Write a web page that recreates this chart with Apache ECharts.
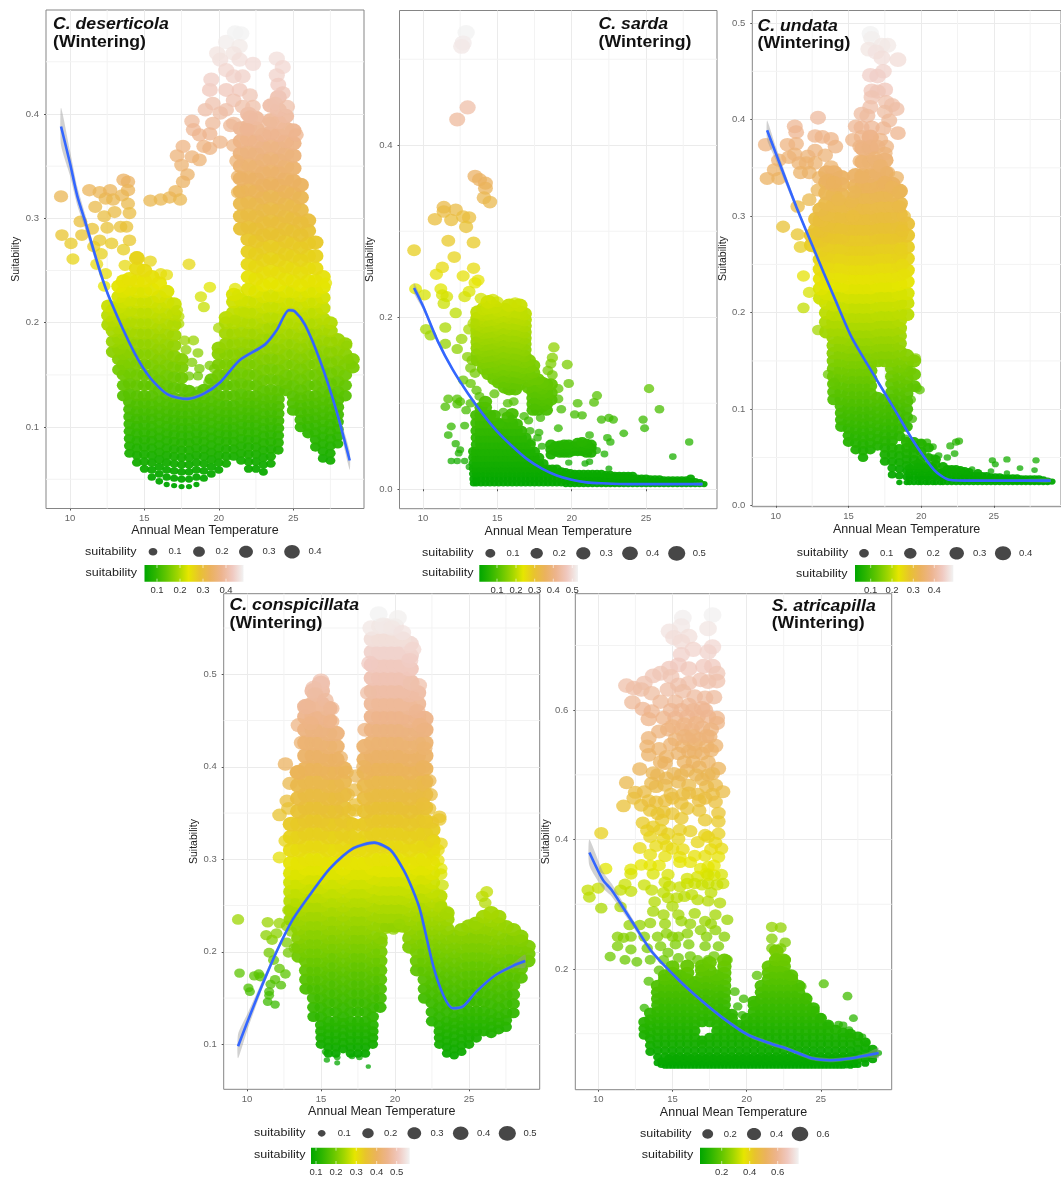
<!DOCTYPE html>
<html>
<head>
<meta charset="utf-8">
<title>Wintering suitability</title>
<script src="https://cdn.jsdelivr.net/npm/echarts@6/dist/echarts.min.js"></script>
<style>
  html, body { margin: 0; padding: 0; background: #fff; }
  #chart { width: 1061px; height: 1178px; }
</style>
</head>
<body>
<div id="chart"></div>
<script>
const deserticolaCloud = [
  [126,198,207,216],[129,172,182,192,202,212],[133,155,165,175,185,195,205,215,225,235],
  [136,130,140,150,160,170,180,190,200,210,220,230,240],
  [140,75,82,89,96,103,110,117,124,132,142,152,162,172,182,192,202,212,222,232,242],
  [145,66,73,80,87,94,101,108,115,122,130,140,150,160,170,180,190,200,210,220,230,240,252,262],
  [150,60,67,74,81,88,95,102,109,116,123,130,140,150,160,170,180,190,200,210,220,230,240,250],
  [155,52,59,66,73,80,87,94,101,108,115,122,130,140,150,160,170,180,190,200,210,220,232,244],
  [160,48,55,62,69,76,83,90,97,104,111,118,125,135,145,155,165,175,185,195,205,215,225,238],
  [165,45,52,59,66,73,80,87,94,101,108,115,122,130,140,150,160,170,180,190,200,210,220,230],
  [170,44,51,58,65,72,79,86,93,100,107,114,121,128,138,148,158,168,178,188,198,208,218],
  [175,43,50,57,64,71,78,85,92,99,106,113,120,127,137,147,157,165],
  [180,43,50,57,64,71,78,85,92,99,106,113,120,127,135],
  [185,45,52,59,66,73,80,87,94,101,108,115,122,130],
  [190,51,58,65,72,79,86,93,100,107,114,121,128,136],
  [195,55,62,69,76,83,90,97,104,111,118,125,135,146],
  [200,59,66,73,80,87,94,101,108,115,122,130,140,150,160,170,176],
  [205,65,72,79,86,93,100,107,114,121,130,140,150,160,170,180,190,200,205],
  [210,72,79,86,93,100,107,114,121,130,140,150,160,170,180,190,200,210,220,227],
  [215,68,75,82,89,96,103,110,117,124,132,142,152,162,172,182,192,202,212,222,290,302,314,326,338,350,362,374,386],
  [220,60,67,74,81,88,95,102,109,116,123,130,140,150,160,170,180,190,200,210,220,232,244,256,268,280,292,304,316,328,340,352,364,376,388,400],
  [225,60,67,74,81,88,95,102,109,116,123,130,140,150,160,170,180,190,200,210,220,230,242,254,266,278,290,302,314,326,338,350,362,374,386,396],
  [230,57,64,71,78,85,92,99,106,113,120,127,135,145,155,165,175,185,195,205,215,225,236,248,260,272,284,296,308,320,332,344,356,368,380],
  [235,65,72,79,86,93,100,107,114,121,128,136,146,156,166,176,186,196,206,216,226,238,250,262,274,286,298,310,322,334,346,358,370,382,394,408],
  [240,78,85,92,99,106,113,120,127,135,145,155,165,175,185,195,205,215,225,236,248,260,272,284,296,308,320,332,344,356,368,380,392,404,416],
  [245,135,142,150,160,170,180,190,200,210,220,230,242,254,266,278,290,302,314,326,338,350,362,374,386,398],
  [250,116,123,130,140,150,160,170,180,190,200,210,220,230,240,252,264,276,288,300,312,324,336,348,360,372,384],
  [255,100,107,114,121,128,136,146,156,166,176,186,196,206,216,226,236,248,260,272,284,296,308,320,332],
  [260,94,101,108,115,122,130,140,150,160,170,180,190,200,210,220,230,240,252,264,276,288,298],
  [265,81,88,95,102,109,116,123,130,140,150,160,170,180,190,200,210,220,230,240,252,264,277],
  [270,70,77,84,91,98,105,112,119,126,134,144,154,164,174,184,194,204,214,224,234,244],
  [275,68,75,82,89,96,103,110,117,124,132,142,152,162,172,182,192,200],
  [280,84,91,98,105,112,119,126,134,144,154,164,174,184],
  [285,130,140,150,160,170,180],[290,157,165]
];
const deserticolaPoints = [
  [9.4,.321],[9.46,.284],[10.07,.276],[10.2,.261],[10.8,.284],[10.7,.297],[11.5,.29],[12,.279],[11.6,.273],[12.1,.266],[11.8,.256],[12.4,.247],[12.3,.235],
  [11.3,.327],[12,.325],[12.4,.319],[12.7,.327],[11.7,.311],[12.3,.302],[12.5,.291],[12.8,.276],[13,.306],[13.6,.337],[13.9,.335],[13.9,.327],[13.5,.322],[12.9,.318],[13.9,.314],[14,.305],[13.8,.292],[13.4,.292],[14,.279],[13.6,.27],[14.5,.263],[13.7,.255],
  [15.4,.259],[16.1,.247],[16.5,.246],[18,.256],[19.4,.234],[18.8,.225],[21.1,.233],[21.3,.227],[27.2,.238],
  [15.4,.317],[16.1,.318],[16.7,.32],[17.1,.326],[17.4,.318],[17.6,.335],[17.9,.342],[17.5,.351],[17.2,.36],[17.6,.369],[18.2,.359],[18.7,.356],[19,.369],[19.4,.367],[20.1,.373],[18.2,.393],[18.3,.385],[18.7,.38],[19.1,.404],[19.6,.391],[20.1,.401],[19.4,.381],[19.6,.41],[20.5,.404],[20.8,.389],[19.4,.423],[19.5,.433],[20.5,.423],[20.1,.452],[19.9,.458],[20.5,.442],[20.5,.469],[21.1,.478],[21.5,.477],[21.4,.465],[21,.458],[21.4,.452],[22.3,.448],[21,.436],[21.6,.436],[21.4,.423],[22.1,.418],[22.3,.407],[21,.413],[21.6,.407],[22.1,.397],[21,.391],[21.9,.385],[21,.37],[21.2,.355],[21.3,.34],[21.3,.325],
  [23.9,.453],[24.3,.445],[23.9,.437],[24,.428],[24.3,.42],[23.8,.41],[24.6,.407],[23.4,.391],[25.2,.38],
  [17.7,.183],[18.3,.183],[17.8,.174],[18.6,.171],[18.2,.162],[18.7,.156],[19.4,.159],[19.7,.156],[18,.149],[18.6,.149],[19.3,.143],[18.6,.135],[17.3,.199],[17.3,.206],[17.2,.212],[19,.215],[20,.195],[21.1,.203],[21.7,.21],[28.9,.16],[28.6,.178],[28.7,.165]
];
const deserticolaCurveX = [9.4,10,10.5,11,12,12.7,14.3,15.4,16.6,17.9,19,20.1,21.4,23.1,23.9,24.7,25.1,25.8,26.8,27.9,28.8];
const deserticolaCurveY = [.388,.353,.321,.298,.25,.222,.172,.147,.131,.127,.132,.143,.164,.179,.193,.212,.211,.198,.164,.116,.068];
const deserticolaBand = [.018,.012,.009,.007,.004,.003,.002,.002,.002,.002,.002,.002,.002,.002,.002,.002,.002,.002,.002,.004,.009];

const sardaCloud = [
  [134,7,12,18,24,30,37,44],[136,7,12,18,24,30,37,44,52,60,68,77,86],[139,7,12,18,24,30,37,44,52,60,68,77,86,95],[142,7,12,18,24,30,37,44,52,60,68,77,86,95,102],
  [145,7,12,18,24,30,37,44,52,60,68,77,86],[148,7,12,18,24,30,37,44,52,60,68,77,86],[151,7,12,18,24,30,37,44,52,60,68,77],[154,7,12,18,24,30,37,44,52,60,68,76],
  [157,7,12,18,24,30,37,44,52,60,68,76,84],[160,7,12,18,24,30,37,44,52,60,68,76,88],[163,7,12,18,24,30,37,44,52,60,68,76],[166,7,12,18,24,30,37,44,52,60,68],
  [169,7,12,18,24,30,37,44,52,60],[172,7,12,18,24,30,37,44,52],[175,7,12,18,24,30,37,44],[178,7,12,18,24,30,37],[181,7,12,18,24,30],[184,7,12,18,24],[187,7,12,18,24],[190,7,12,18,24],
  [193,7,11,16,21],[196,6,10,15,20],[199,6,10,14,19],[202,6,10,14,18],[205,6,10,14,18],[208,6,10,14,18],[211,6,10,14,18],[214,6,10,14,18],[217,6,10,14,18],[220,6,10,14,18],[223,6,10,14,17],[226,6,10,14,17],[229,6,10,14,16],[232,6,10,14,16],[235,6,10,14,16],[238,6,10,14,16],[241,6,10,13,16],[244,6,10,13],[247,6,10,13],[250,6,9,13],[253,6,9,12],[256,6,9,12],[259,6,9,12],[262,6,9,11],[265,6,9,11],[268,6,9,11],[271,6,9,11],[274,6,9,11],[277,6,9,11],[280,6,9,13],[283,6,9],[286,6,8],[289,6],
  [137,150,157,164,171,178,185,192,199,206],[141,140,147,154,161,168,175,182,189,196,203,210],[144,134,141,148,155,162,169,176,183,190,197,204,211,218],[148,128,135,142,149,156,163,170,177,184,191,198,205,212],
  [151,124,131,138,145,152,159,166,173,180,187,194,201,208],[155,118,125,132,139,146,153,160,167,174,181,188,195,202,209],[158,116,123,130,137,144,151,158,165,172,179,186,193,200,207,214],
  [162,116,123,130,137,144,151,158,165,172,179,186,193,200,207],[165,122,129,136,143,150,157,164,171,178,185,192,199,206,214],[168,134,141,148,155,162,169,176,183,190,197,204],
  [171,118,126,134,142,150],[174,92,99,106,113,120,128,136,144],[177,92,99,106,113,120,128],[180,96,103,110,117,124],[183,92,99,106,113,122],[186,104,112,122],
  [186,40,46,52],[189,44,50],[192,42,48,51],[195,42,48,52],[198,42,48,52],[201,44,50],[204,44,50,54],[207,44,50,55],[210,42,48,53],[213,42,48,52]
];
const sardaPoints = [
  [12.9,.531],[12.7,.519],[12.6,.515],[13,.444],[12.3,.43],[13.5,.364],[13.8,.36],[14.2,.356],[14.2,.35],[14.1,.339],[14.5,.334],[11.4,.328],[11.4,.323],[10.8,.314],[11.9,.313],[12.2,.325],[12.7,.317],[13.1,.316],[12.9,.305],[11.7,.289],[13.4,.287],[9.4,.278],[12.1,.27],[11.3,.258],[10.9,.25],[12.7,.248],[13.4,.257],[13.7,.243],[13.5,.24],[9.5,.233],[11.2,.233],[10.1,.226],[13.1,.23],[11.3,.226],[11.6,.224],[12.8,.224],[13.9,.222],[14.7,.221],[15,.218],[16.2,.217],
  [11.4,.216],[12.2,.205],[10.2,.186],[10.5,.179],[11.5,.188],[13.1,.186],[13.4,.193],[11.5,.169],[12.6,.175],[12.3,.163],[13,.154],[13.3,.15],[13.2,.141],[13.5,.135],[12.7,.127],[13.2,.123],[13.6,.115],[13.8,.108],[11.7,.105],[12.3,.105],[11.5,.096],[12.3,.099],[12.5,.102],[13.2,.1],[12.9,.092],[11.9,.073],[12.8,.074],[11.7,.063],[12.2,.053],[12.4,.042],[12.5,.046],[11.9,.033],[12.3,.033],[12.8,.033],[13.1,.026],[14.8,.111],[15.7,.1],[16.1,.102],[15.4,.09],[16,.082],[16.8,.085],[17.1,.08],[17.9,.083],[17.2,.068],[17.8,.066],[17.7,.06],[17.3,.055],[18,.05],
  [18.8,.165],[18.7,.153],[18.6,.146],[19.7,.145],[18.4,.138],[18.7,.133],[19.8,.123],[19.1,.117],[19.1,.105],[19.3,.093],[20.4,.1],[21.7,.109],[21.5,.101],[20.2,.087],[20.7,.086],[22,.081],[22.5,.083],[22.8,.081],[19.1,.071],[21.2,.063],[23.5,.065],[22.4,.06],[22.6,.055],[25.2,.117],[25.9,.093],[24.8,.081],[24.9,.071],[27.9,.055],[26.8,.038],[21.7,.045],[22.2,.041],[19.8,.031],[22.5,.024],[20.9,.03],[21.2,.032]
];
const sardaCurveX = [9.4,10,11,12,13,14,15,16,17,18,19,20,21,22,24,26,28,28.8];
const sardaCurveY = [.234,.213,.172,.139,.112,.088,.067,.05,.035,.024,.016,.011,.008,.007,.006,.006,.006,.006];
const sardaBand = [.006,.004,.003,.002,.002,.001,.001,.001,.001,.001,.001,.001,.001,.001,.001,.001,.001,.002];

const undataCloud = [
  [125,270,280],[128,275,286,297],[131,215,225,235,245,255,265,275,285,296,307],
  [135,180,190,200,210,220,230,240,250,260,270,280,291,302,313,324,335,345],
  [140,110,118,126,134,142,150,158,166,174,182,190,198,208,218,228,238,248,258,268,278,289,300,311,322,333,345],
  [145,82,89,96,103,110,118,126,134,142,150,158,166,174,182,190,198,208,218,228,238,248,258,268,278,289,300,311,322,333,340],
  [150,66,73,80,87,94,101,108,116,124,132,140,148,156,164,172,180,188,196,206,216,226,236,246,256,266,276,287,298,310],
  [155,58,65,72,79,86,93,100,108,116,124,132,140,148,156,164,172,180,188,196,206,216,226,236,246,256,266,276,287,298,309,320,331,342],
  [160,50,57,64,71,78,85,92,100,108,116,124,132,140,148,156,164,172,180,188,196,206,216,226,236,246,256,266,276,287,298,309,320,331,342,356,370],
  [165,58,65,72,79,86,93,100,108,116,124,132,140,148,156,164,172,180,188,196,206,216,226,236,246,256,266,276,287,298,309,320,331,342,356,370,382],
  [170,62,69,76,83,90,97,104,112,150,158,166,174,182,190,198,208,218,228,238,248,258,268,278,289,300,311,322,333,345,356],
  [175,46,53,60,67,74,81,88,95,102,110,150,158,166,174,182,190,198,208,218,228,238,248,258,268,278,289,300,311,322,333,345,358],
  [180,32,39,46,53,60,67,74,81,88,95,102,110,118,126,134,142,150,158,166,174,182,190,198,208,218,228,238,248,258,268,278,289,300,311,322,333],
  [185,24,31,38,45,52,59,72,80,88,96,104,112,120,128,136,144,152,160,168,176,184,192,200,210,220,230,240,250,260,270,280,291,302,313,326],
  [190,24,30,36,42,48,54,60,66,82,92,100,108,116,124,132,140,148,156,198,210,220,232,244,256,268,280,292],
  [195,24,30,36,42,48,54,60,66,124,136,150],[200,24,30,36,42,48,56,64],[205,24,30,36,42,50,60],[210,24,30,36,43,48],[215,24,29,35,41],
  [192,24,29,34,39],[198,24,29,34,39,44],[203,24,29,34,39],[208,24,29,34,40],[213,24,29,34],[218,24,29,34,38],[221,24,28,33,38],[224,24,28,33,38],[227,24,28,32,37],[230,24,28,32,36],[233,24,28,32,35],[236,24,27,31],[239,24,27,31,34],[242,24,27,31],[245,24,27,31],[248,24,27,30],[251,24,27,30],[254,24,27,30],[257,24,27,29],[260,24,27,29],[263,24,26,29],[266,24,26,29],[269,24,26,28],[272,24,26,28],[275,24,26,28],[278,24,26,28],[281,24,26,28],[284,24,26,27],[287,24,26],[290,25]
];
const undataPoints = [
  [16.5,.489],[16.6,.484],[16.4,.473],[17.3,.477],[17.7,.477],[16.9,.47],[17.3,.464],[18.4,.462],[17.4,.45],[16.5,.446],[17,.445],[16.6,.43],[17.5,.431],[17,.429],[16.6,.423],[17.6,.418],[18,.415],[18.3,.411],[16.5,.413],[15.9,.406],[16.3,.404],[17.5,.408],[17.8,.399],[15.5,.393],[15.9,.392],[16.6,.392],[17.4,.391],[18.4,.386],[15.3,.379],[15.9,.382],[16.5,.382],[17.2,.379],[15.8,.372],[16.5,.372],[17,.372],[17.6,.372],[15.8,.357],[17.5,.365],[16.8,.36],[17.2,.352],[17.7,.345],[18.3,.34],[15.9,.34],[17.5,.335],[18,.33],[18.5,.325],[18.8,.3],[18.7,.285],[18.6,.265],[18.7,.25],[18.8,.24],[18.5,.31],[15.3,.3],[15.2,.315],[15.4,.325],
  [12.9,.402],[11.3,.393],[11.4,.387],[12.7,.383],[13.2,.382],[13.8,.38],[14.1,.372],[9.3,.374],[10.8,.374],[11.4,.375],[10.2,.358],[10.9,.361],[9.4,.339],[9.9,.348],[10.2,.339],[11.6,.355],[11.3,.364],[12.2,.362],[12.7,.368],[13.4,.363],[12.1,.355],[12.7,.355],[11.7,.345],[12.3,.345],[13.8,.351],[13,.34],[13.6,.337],[12.9,.327],[14,.335],
  [12.3,.317],[14.3,.317],[11.5,.31],[10.5,.289],[11.5,.281],[11.7,.268],[11.9,.238],[12.3,.221],[11.9,.205],[12.9,.182],[13.6,.136],[14,.128],
  [19.2,.065],[20,.066],[20.4,.066],[20.8,.061],[21.2,.052],[22,.062],[22.4,.066],[22.6,.067],[22.3,.054],[21.8,.05],[24.9,.047],[25.1,.043],[25.9,.048],[27.9,.047],[26.8,.039],[27.8,.037],[24.8,.036],[25.9,.034],[23.5,.038],[19.6,.153],[19.3,.14],[19.9,.12],[19.7,.122],[19.3,.11],[19.4,.09],[18.9,.07],[19.6,.06],[20.9,.05]
];
const undataCurveX = [9.4,10,11.4,12.5,13.3,14.1,15.2,16.8,18.2,19.5,20.9,21.9,23.6,26,28.9];
const undataCurveY = [.389,.365,.31,.27,.241,.213,.175,.134,.099,.066,.037,.027,.026,.026,.026];
const undataBand = [.01,.007,.003,.002,.002,.002,.002,.002,.002,.002,.001,.001,.001,.001,.002];

const conspicillataCloud = [
  [130,235,245,255,265,275,285,296,310,324,338],
  [135,195,205,215,225,235,245,255,265,275,285,296,310,324,338,352,366,380,394],
  [140,160,170,180,190,200,210,220,230,240,250,260,270,280,290,300,314,328,342,356,370,384,398,412,426,440,454,465],
  [145,130,140,150,160,170,180,190,200,210,220,230,240,250,260,270,280,290,300,314,328,342,356,370,384,398,412,426,440,454,468,482],
  [150,100,107,114,121,130,140,150,160,170,180,190,200,210,220,230,240,250,260,270,280,290,300,314,328,342,356,370,384,398,412,426,440,454,468,482,490],
  [155,90,97,104,111,118,125,135,145,155,165,175,185,195,205,215,225,235,245,255,265,275,285,296,310,324,338,352,366,380,394,408,422,436,450,463],
  [160,90,97,104,111,118,125,135,145,155,165,175,185,195,205,215,225,235,245,255,265,275,285,296,310,324,338,352,366,380,394,408,422,436],
  [165,95,102,109,116,123,130,140,150,160,170,180,190,200,210,220,230,240,250,260,270,280,290,300,314,328,342,356,370,384,398],
  [170,90,97,104,111,118,125,135,145,155,165,175,185,195,205,215,225,235,245,255,265,275,285,296,310,324,338],
  [175,90,97,104,111,118,125,135,145,155,165,175,185,195,205,215,225,235,245,255,265,275,285,296,310,320],
  [180,90,97,104,111,118,125,135,145,155,165,175,185,195,205,215,225,235,245,255,265,275,285,296,310,324,338,352,366,380,394,408,422],
  [185,100,107,114,121,130,140,150,160,170,180,190,200,210,220,230,240,250,260,270,280,290,300,314,328,342,356,370,384,398,412,426,440,454,468,482,496,510,524,538],
  [190,140,150,160,170,180,190,200,210,215,228,238,248,258,268,278,288,300,314,328,342,356,370,384,398,412,426,440,454,468,482,496,510,524,538,552],
  [195,228,238,248,258,268,278,288,300,314,328,342,356,370,384,398,412,426,440,454,468,482,496,510,524,538,552],
  [200,228,238,248,258,268,278,288,300,314,328,342,356,370,384,398,412,426,440,454,468,482,496,510,524,538,552],
  [205,228,238,248,258,268,278,288,300,314,328,342,356,370,384,398,412,426,440,454,468,482,496,510,524,538],
  [210,205,215,225,235,245,255,265,275,285,296,310,324,338,352,366,380,394,408,422,436,450,464,478,492,506,520,533],
  [215,180,190,200,210,220,230,240,250,260,270,280,290,300,314,328,342,356,370,384,398,412,426,440,454,468,480],
  [220,150,160,170,180,190,200,210,220,230,240,250,260,270,280,290,300,314,328,342,356,370,384,398,412,426,440,452],
  [225,125,135,145,155,165,175,185,195,205,215,225,235,245,255,265,275,285,296,310,320,332],
  [230,100,107,114,121,130,140,150,160,170,180,190,200,210,220,230,240,250,260],
  [235,90,97,104,111,118,125,135,145,155,165,175,185,195,205,215,225,235,242],
  [240,88,95,102,109,116,123,130,140,150,160,170,180,190,200,210,217],
  [245,92,99,106,113,120,127,135,145,155,165,175,185,195,205,215,224],
  [250,100,107,114,121,128,136,146,156,166,176,186,196,206,216,228],
  [255,107,114,121,128,136,146,156,166,176,186,196,206,216,226,231],
  [260,114,121,128,136,146,156,166,176,186,196,206,216,226,238],
  [265,112,119,126,134,144,154,164,174,184,194,204,214,224,234,242],
  [270,116,123,130,140,150,160,170,180,190,200,210,220,230,238],
  [275,119,126,134,144,154,164,174,184,194,204,214,227],
  [280,134,144,154,164,174,184,194,204,214,224],[285,172,182,192,202,212,217],[290,190,198,206]
];
const conspicillataPoints = [
  [15,.493],[14.5,.485],[14.6,.478],[15.3,.472],[14.1,.465],[15.7,.463],[13.5,.445],[14.3,.447],[15.7,.449],[13.7,.426],[12.6,.403],[13.4,.394],[12.9,.382],[12.7,.363],[12.8,.355],[12.2,.348],[12.6,.32],[12.2,.302],[16.3,.41],[16.7,.394],[16.8,.37],[17.2,.338],[17.6,.317],[16.9,.352],[17.3,.327],
  [18.9,.565],[20.2,.561],[18.4,.55],[19.2,.553],[19.8,.55],[20.5,.545],[21.2,.527],[21,.515],[18.3,.512],[21.1,.49],[18.2,.48],[21.6,.488],[21.5,.46],[21.7,.445],[22,.44],[22,.42],[21.9,.4],[22,.38],[22.4,.37],[22.3,.355],[22.5,.34],[22.6,.32],[22.6,.305],[22.3,.385],[18,.44],[17.9,.4],[21.9,.36],[22.1,.34],
  [17.4,.39],[17.3,.375],[17.3,.359],[17.3,.353],[17.6,.337],[23,.346],[23,.343],[23.1,.317],[22.9,.31],[22.9,.299],[23.1,.29],[23.1,.284],[23.2,.272],[26.2,.265],[25.9,.26],[26.1,.253],[23.1,.249],[23.5,.242],
  [9.4,.235],[11.4,.232],[11.3,.218],[11.7,.213],[11.5,.199],[9.5,.177],[10.5,.174],[10.8,.176],[10.9,.173],[10.1,.161],[10.2,.157],[11.9,.17],[12.3,.164],[12.2,.182],[12.6,.176],[11.5,.157],[11.4,.146],[11.9,.143],[11.8,.191],[12.2,.231],[12,.22],[12.8,.199],[13.2,.204],[12.7,.21],[11.6,.165],[12.7,.228],[13,.222],[11.5,.153],[12.8,.245],
  [15.4,.083],[16.1,.08],[18.2,.076],[15.3,.092],[16.1,.086],[17.1,.087],[17.6,.086],[19.4,.225],[19.9,.224],[20.3,.23]
];
const conspicillataCurveX = [9.4,10,10.9,12,13.1,14.5,15.6,17.2,18.6,19.7,20.6,21.2,21.7,22.6,23.3,23.9,24.6,25.5,26.8,28,28.8];
const conspicillataCurveY = [.098,.123,.159,.2,.235,.267,.29,.312,.318,.31,.288,.267,.245,.184,.152,.139,.141,.157,.175,.185,.19];
const conspicillataBand = [.013,.009,.005,.003,.002,.002,.002,.002,.002,.002,.002,.002,.002,.002,.002,.002,.002,.002,.002,.003,.007];

const atricapillaCloud = [
  [131,98,108,118],[135,72,82,92,102,112,122,132],[140,55,64,74,84,94,104,114,124,134,144,154,164,174],
  [145,50,57,65,74,84,94,104,114,124,134,144,154,164,174,184,190],[150,50,57,65,74,84,94,104,114,124,134,144,154,164,174,184,194,204],
  [155,50,57,65,74,84,94,104,114,124,134,144,154,164,174,184,190],[160,50,57,65,74,84,94,104,114,124,134,144,154,164,174,184,194,205],
  [165,50,57,65,74,84,94,104,114,124,134,144,154,164,174,180],[170,50,57,65,74,84,90,118,128,138,148,158,168,178,188,198,205],
  [175,50,57,65,74,84,94,118,128,138,148,158,168,178,188,198,210],[180,50,57,65,74,84,94,104,114,124,134,144,154,164,174,184,190],
  [185,50,57,65,74,84,94,104,114,124,134,144,154,164,174,184,194,204,214],[190,50,57,65,74,84,94,104,114,124,130],[195,50,57,65,74,84,94,104,114],
  [200,50,57,65,74,84,94,104,114,124],[205,50,57,65,74,84,94,104,114,124,134,144,150],[210,50,57,65,74,84,94,104,114,124,134,144,154,164,174],
  [215,50,57,65,74,84,94,104,114,124,134,144,154,164,174,184,194,204],[220,50,57,65,74,84,94,104,114,124,134,144,154,164,174,184,194,204,214,228],
  [225,50,57,65,74,84,94,104,114,124,134,144,154,164,174,184,194,204,214],[230,50,57,65,74,84,94,104,114,124,134,144,154,164,174,184,190],
  [235,50,57,65,74,84,94,104,114,124,134,144,154,164,174],[240,50,57,65,74,84,94,104,114,124,134,144,154],[245,50,57,65,74,84,94,104,114,124,134,140],
  [250,50,57,65,74,84,94,104,114,124],[255,50,57,65,74,84,94,104,114],[260,50,57,65,74,84,94,106],[265,50,57,65,74,84,94,102],[270,50,57,65,74,84,94,100],
  [275,52,59,67,76,86,96],[280,54,61,69,78,87],[285,60,67,76],
  [142.5,52,58],[147.5,50,56,62],[152.5,50,56,62],[157.5,50,56,62],[162.5,50,56,62],[167.5,50,56,62],[172.5,50,56,62],[177.5,50,56,62],[182.5,50,56,62],[187.5,50,56,62],[192.5,50,56,62],[197.5,50,56,62],[202.5,50,56,62],[207.5,50,56,62],[212.5,50,56,62],[217.5,50,56,62],[222.5,50,56,62],[227.5,50,56,62],[232.5,50,56,62],[237.5,50,56,62],[242.5,50,56,62],[247.5,50,56,62],[252.5,50,56,62],[257.5,50,56,62],[262.5,50,56,62],[267.5,51,57,62],[272.5,52,58,64]
];
const atricapillaPoints = [
  [15.7,.743],[17.7,.747],[15.6,.73],[17.4,.726],[14.8,.722],[15.1,.712],[16.1,.714],[15.6,.706],[16.4,.694],[17.7,.698],[17.4,.69],[15.6,.686],
  [14.8,.665],[15.4,.67],[16.1,.664],[17.1,.668],[17.7,.668],[18,.657],[11.9,.638],[12.4,.634],[13.1,.642],[13.7,.653],[14.2,.657],[14.9,.652],[16.9,.647],[17.4,.644],[18,.645],[16.1,.642],[15.4,.639],
  [12.9,.632],[13.6,.626],[14.7,.632],[15.7,.629],[16.5,.621],[17.2,.619],[17.8,.62],[12.3,.612],[14.2,.613],[15.2,.613],[13,.602],[13.6,.598],[16.1,.608],[17,.603],
  [13.4,.586],[14.4,.588],[15.2,.588],[16,.59],[16.7,.59],[17.4,.59],[18,.588],[18,.58],[14.7,.57],[15.6,.57],[16.3,.57],[17,.573],[17.6,.57],[14.1,.567],
  [13.4,.557],[15.2,.555],[16.1,.555],[16.8,.555],[17.5,.559],[13.3,.544],[14.1,.54],[14.9,.547],[15.7,.544],[16.5,.547],[17.3,.544],[17.9,.545],
  [13.4,.531],[14.6,.528],[15.4,.533],[16.1,.536],[17,.533],[17.6,.538],[12.8,.509],[13.7,.503],[14.5,.518],[15.1,.502],[16,.507],[16.8,.512],[18.1,.51],[17.7,.502],
  [11.9,.488],[12.5,.473],[12.4,.464],[11.7,.452],[13.1,.474],[13.9,.482],[13.6,.487],[14.5,.484],[16.1,.484],[15.4,.489],[17.3,.482],[17.9,.484],[18.4,.474],[17,.493],
  [12.9,.453],[13.9,.458],[15,.464],[15.6,.456],[16.1,.472],[17.9,.458],[17.2,.464],[13.5,.445],[14.4,.443],[16,.448],[16.8,.445],[18.1,.441],
  [13,.426],[14.3,.43],[15.6,.433],[17.2,.43],[18.1,.428],[13.3,.414],[14.7,.409],[16.2,.413],[17.2,.407],[18.1,.409],
  [10.2,.41],[13.5,.404],[14.4,.401],[15.4,.401],[16.7,.396],[17.4,.404],[18.3,.386],[12.8,.387],[15,.386],[17.9,.395],
  [13.5,.377],[14.5,.374],[15.5,.373],[17.2,.375],[18.1,.373],[10.5,.355],[15.5,.365],[16.2,.365],[17.4,.358],[12.2,.354],[12.9,.361],[13.5,.36],[12.2,.347],[14.7,.346],[13.7,.347],[18.3,.346],[16,.34],[16.7,.343],[17.3,.348],[17.8,.345],
  [11.8,.331],[9.3,.322],[10,.325],[13.1,.33],[14.5,.334],[15.5,.327],[16.5,.332],[17.4,.332],[18.4,.332],[9.4,.311],[10.2,.294],[11.5,.322],[12.2,.32],[11.5,.296],[13.6,.322],[14.8,.328],[16,.332],[17,.33],[18,.33],
  [13.8,.304],[14.7,.31],[15.8,.312],[16.7,.307],[18.2,.302],[17.6,.318],[13.7,.289],[15,.297],[14.4,.284],[15.4,.284],[16.5,.286],[17.9,.284],[18.7,.276],[15.6,.274],[17.2,.274],[13.5,.271],[12.8,.268],[12.1,.268],[11.3,.25],[11.7,.248],[14.6,.255],[16,.255],[16.9,.26],[17.9,.26],[18.5,.25],[12.2,.25],[13.1,.25],[14,.25],
  [11.3,.235],[10.8,.219],[11.8,.214],[12.6,.211],[12.2,.23],[13.3,.232],[14.2,.235],[15.2,.238],[16.1,.238],[17.2,.235],[18.1,.235],[13.5,.214],[14.4,.214],[15.4,.217],[16.7,.214],[17.4,.214],[18.7,.214],[13.4,.181],[14.1,.198],[13.1,.14],
  [19.2,.165],[19.8,.154],[19.4,.142],[19.7,.129],[20.7,.19],[21.7,.265],[22.3,.264],[21.7,.247],[22.6,.241],[22.3,.232],[21.7,.232],[22,.218],[22.6,.214],[22.8,.191],[23.7,.173],[24,.157],[24.6,.137],[25,.126],[25.5,.113],[25.2,.177],[26.8,.158],[27.2,.124],[26.2,.114],[26.5,.113],[26.9,.106],[27.8,.095],[28.1,.085],[28.7,.067],[28.9,.07],
  [14.9,.6],[15.6,.6],[16.4,.6],[17.2,.6],[15,.575],[15.8,.578],[16.6,.58],[17.3,.56],[15.8,.56],[16.4,.56],[16.5,.535],[15.8,.52],[16.4,.52],[17.4,.52],[14.2,.52],[14,.5],[14.6,.495],[15.6,.5],[16.6,.5],[17.4,.5],[14.9,.47],[15.7,.47],[16.7,.47],[17.7,.47],[13.4,.46],[14.5,.46],[16.8,.46],[14,.44],[15,.44],[13.7,.42],[14.2,.415],[15.5,.415],[13.9,.39],[14.6,.39],[15.7,.385],[17.6,.385],[16.5,.375],[14.1,.36],[16.9,.355],[17.8,.36],[17.4,.345],[14.4,.318],[15.3,.31],[16.3,.315],[17.4,.305],[14.5,.27],[16.2,.27],[17.6,.27],[15,.25],[15.4,.25],[17.3,.25],[14.7,.225],[16.2,.22],[17.8,.22]
];
const atricapillaCurveX = [9.4,10.3,10.9,12.2,13.6,15.2,16.5,18.3,20.1,21.7,22.8,24.4,25.7,27.1,28.2,28.9];
const atricapillaCurveY = [.38,.338,.322,.276,.227,.188,.16,.126,.098,.084,.076,.062,.059,.062,.067,.07];
const atricapillaBand = [.02,.013,.01,.006,.004,.003,.003,.003,.003,.003,.003,.003,.003,.003,.004,.008];

const terrainColors = ['#00A600','#2DB600','#63C600','#A0D600','#E6E600','#E8C32E','#EBB25E','#EDB48E','#F0C9C0','#F2F2F2'];

const panels = [
  { cloud: deserticolaCloud, points: deserticolaPoints, curveX: deserticolaCurveX, curveY: deserticolaCurveY, band: deserticolaBand,
    left: 46, top: 10, width: 318, height: 498.5, xMin: 8.39, xMax: 29.76, yMin: .022, yMax: .4996,
    yTicks: [.1,.2,.3,.4], yMinor: [.05,.15,.25,.35,.45], low: .045, high: .476, k: 2.7,
    title: ['C. deserticola','(Wintering)'], titleX: 53, titleY: [24,42],
    sizeLegend: { y: 551.7, titleX: 85, dots: [[.1,153,175],[.2,199,222],[.3,246,269],[.4,292,315]] },
    colorLegend: { y: 573.3, titleX: 85.5, x0: 144.5, x1: 243.5, barTop: 565, barBottom: 581.7, labelY: 590, ticks: [[.1,157],[.2,180],[.3,203],[.4,226]] } },
  { cloud: sardaCloud, points: sardaPoints, curveX: sardaCurveX, curveY: sardaCurveY, band: sardaBand,
    left: 399.5, top: 10.5, width: 317.5, height: 498.2, xMin: 8.42, xMax: 29.77, yMin: -.0226, yMax: .5567,
    yTicks: [0,.2,.4], yMinor: [.1,.3,.5], low: .005, high: .53, k: 2.8,
    title: ['C. sarda','(Wintering)'], titleX: 598.5, titleY: [24,42],
    sizeLegend: { y: 553.3, titleX: 422, dots: [[.1,490.3,513],[.2,536.7,559.3],[.3,583.3,606.3],[.4,630,652.7],[.5,676.7,699.3]] },
    colorLegend: { y: 573.3, titleX: 422, x0: 479.3, x1: 578, barTop: 565, barBottom: 581.7, labelY: 590, ticks: [[.1,497],[.2,516],[.3,534.7],[.4,553.3],[.5,572.3]] } },
  { cloud: undataCloud, points: undataPoints, curveX: undataCurveX, curveY: undataCurveY, band: undataBand,
    left: 752.3, top: 10.5, width: 315, height: 496.2, xMin: 8.38, xMax: 29.62, yMin: -.001, yMax: .513,
    yTicks: [0,.1,.2,.3,.4,.5], yMinor: [.05,.15,.25,.35,.45], low: .024, high: .49, k: 2.8,
    title: ['C. undata','(Wintering)'], titleX: 757.5, titleY: [26,43],
    sizeLegend: { y: 553.3, titleX: 796.7, dots: [[.1,864,886.7],[.2,910.3,933.3],[.3,956.7,979.7],[.4,1003,1025.7]] },
    colorLegend: { y: 574, titleX: 796, x0: 855, x1: 953.3, barTop: 565, barBottom: 581.7, labelY: 590, ticks: [[.1,870.7],[.2,892],[.3,913.3],[.4,934.3]] } },
  { cloud: conspicillataCloud, points: conspicillataPoints, curveX: conspicillataCurveX, curveY: conspicillataCurveY, band: conspicillataBand,
    left: 223.7, top: 593.7, width: 316, height: 495.6, xMin: 8.43, xMax: 29.78, yMin: .0514, yMax: .5871,
    yTicks: [.1,.2,.3,.4,.5], yMinor: [.15,.25,.35,.45,.55], low: .075, high: .565, k: 2.9,
    title: ['C. conspicillata','(Wintering)'], titleX: 229.5, titleY: [605.7,623],
    sizeLegend: { y: 1133.3, titleX: 254, dots: [[.1,321.7,344.3],[.2,368,390.7],[.3,414.3,437],[.4,460.7,483.7],[.5,507.3,530]] },
    colorLegend: { y: 1155, titleX: 254, x0: 311, x1: 409.7, barTop: 1147.7, barBottom: 1164, labelY: 1172.7, ticks: [[.1,316],[.2,336],[.3,356.3],[.4,376.7],[.5,396.7]] } },
  { cloud: atricapillaCloud, points: atricapillaPoints, curveX: atricapillaCurveX, curveY: atricapillaCurveY, band: atricapillaBand,
    left: 575.3, top: 593.7, width: 316.4, height: 496, xMin: 8.45, xMax: 29.78, yMin: .0134, yMax: .78,
    yTicks: [.2,.4,.6], yMinor: [.1,.3,.5,.7], low: .05, high: .75, k: 2.9,
    title: ['S. atricapilla','(Wintering)'], titleX: 771.7, titleY: [606.7,623.7],
    sizeLegend: { y: 1134, titleX: 640, dots: [[.2,707.7,730.3],[.4,754,776.7],[.6,800,823]] },
    colorLegend: { y: 1155.3, titleX: 641.7, x0: 700, x1: 798.7, barTop: 1147.7, barBottom: 1164, labelY: 1172.7, ticks: [[.2,721.7],[.4,749.7],[.6,777.7]] } }
];

const xTicks = [10,15,20,25];
const xMinor = [12.5,17.5,22.5,27.5];
const sans = '"Liberation Sans", Arial, sans-serif';

function markWidth(p, v) {
  const t = Math.max(0, Math.min(1, (v - p.low) / (p.high - p.low)));
  return p.k * (1.6 + 4.6 * Math.sqrt(t));
}

function cloudData(p) {
  const out = [];
  p.cloud.forEach(row => {
    for (let i = 1; i < row.length; i++) out.push([row[0] / 10, row[i] / 1000]);
  });
  return out.sort((a, b) => a[1] - b[1]);
}

function text(str, x, y, font, fill, align, scaleX) {
  return { type: 'text', x: x, y: y, scaleX: scaleX || 1, silent: true, z: 20,
    style: { text: str, font: font, fill: fill, align: align || 'left', verticalAlign: 'middle', textAlign: align || 'left', textVerticalAlign: 'middle' } };
}

const grid = [], xAxis = [], yAxis = [], series = [], visualMap = [], graphic = [];

panels.forEach((p, i) => {
  grid.push({ left: p.left, top: p.top, width: p.width, height: p.height, show: true, borderColor: '#858585', borderWidth: 1, backgroundColor: '#fff' });
  xAxis.push({ type: 'value', gridIndex: i, min: p.xMin, max: p.xMax,
    name: 'Annual Mean Temperature', nameLocation: 'middle', nameGap: 12,
    nameTextStyle: { fontFamily: sans, fontSize: 12.5, color: '#222' },
    axisLine: { show: false }, axisTick: { length: 2, customValues: xTicks, lineStyle: { color: '#555' } },
    axisLabel: { customValues: xTicks, margin: 5, fontFamily: sans, fontSize: 9.5, color: '#666' },
    splitLine: { show: true, lineStyle: { color: '#ebebeb', width: 1 } } });
  yAxis.push({ type: 'value', gridIndex: i, min: p.yMin, max: p.yMax,
    name: 'Suitability', nameLocation: 'middle', nameGap: 23,
    nameTextStyle: { fontFamily: sans, fontSize: 10.5, color: '#222' },
    axisLine: { show: false }, axisTick: { length: 2, customValues: p.yTicks, lineStyle: { color: '#555' } },
    axisLabel: { customValues: p.yTicks, margin: 7, fontFamily: sans, fontSize: 9.5, color: '#666', formatter: v => v.toFixed(1) },
    splitLine: { show: true, lineStyle: { color: '#ebebeb', width: 1 } } });

  // thin half-way grid lines
  series.push({ type: 'custom', xAxisIndex: i, yAxisIndex: i, silent: true, z: 1, data: [[xTicks[0], p.yTicks[0]]],
    renderItem: (params, api) => {
      const lines = [];
      const style = { stroke: '#f3f3f3', lineWidth: 1 };
      xMinor.forEach(x => {
        const a = api.coord([x, p.yMin]), b = api.coord([x, p.yMax]);
        lines.push({ type: 'line', shape: { x1: a[0], y1: a[1], x2: b[0], y2: b[1] }, style: style });
      });
      p.yMinor.forEach(y => {
        const a = api.coord([p.xMin, y]), b = api.coord([p.xMax, y]);
        lines.push({ type: 'line', shape: { x1: a[0], y1: a[1], x2: b[0], y2: b[1] }, style: style });
      });
      return { type: 'group', children: lines };
    } });

  // the dense part of the cloud, low marks a bit larger so the bands close up
  series.push({ type: 'scatter', xAxisIndex: i, yAxisIndex: i, silent: true, z: 2, progressive: 0, large: false,
    data: cloudData(p),
    symbol: 'circle',
    symbolSize: val => {
      const t = (val[1] - p.low) / (p.high - p.low);
      const w = markWidth(p, val[1]) * (1.42 - 0.4 * Math.max(0, Math.min(1, t)));
      return [w, w * 0.86];
    },
    itemStyle: { opacity: 0.95 } });

  // the separate points around it
  series.push({ type: 'scatter', xAxisIndex: i, yAxisIndex: i, silent: true, z: 2, progressive: 0, large: false,
    data: p.points,
    symbol: 'circle',
    symbolSize: val => { const w = markWidth(p, val[1]); return [w, w * 0.87]; },
    itemStyle: { opacity: 0.75 } });

  // confidence ribbon
  series.push({ type: 'custom', xAxisIndex: i, yAxisIndex: i, silent: true, z: 3, data: [[p.curveX[0], p.curveY[0]]],
    renderItem: (params, api) => {
      const pts = [];
      p.curveX.forEach((x, j) => pts.push(api.coord([x, p.curveY[j] + p.band[j]])));
      for (let j = p.curveX.length - 1; j >= 0; j--) pts.push(api.coord([p.curveX[j], p.curveY[j] - p.band[j]]));
      return { type: 'polygon', shape: { points: pts, smooth: 0.2 }, style: { fill: 'rgba(153,153,153,0.45)' } };
    } });

  series.push({ type: 'line', xAxisIndex: i, yAxisIndex: i, silent: true, z: 4, showSymbol: false, smooth: 0.25,
    data: p.curveX.map((x, j) => [x, p.curveY[j]]),
    lineStyle: { color: '#3366FF', width: 2.6 } });

  visualMap.push({ type: 'continuous', show: false, seriesIndex: [5 * i + 1, 5 * i + 2], dimension: 1, min: p.low, max: p.high,
    inRange: { color: terrainColors } });

  graphic.push(text(p.title[0], p.titleX, p.titleY[0], 'italic bold 16.5px ' + sans, '#111', 'left', 1.07));
  graphic.push(text(p.title[1], p.titleX, p.titleY[1], 'bold 16.5px ' + sans, '#111', 'left', 1.07));

  const s = p.sizeLegend;
  graphic.push(text('suitability', s.titleX, s.y, '11.5px ' + sans, '#222', 'left', 1.09));
  s.dots.forEach(d => {
    const w = markWidth(p, d[0]);
    graphic.push({ type: 'ellipse', silent: true, z: 20, shape: { cx: d[1], cy: s.y, rx: w / 2, ry: w * 0.435 }, style: { fill: '#474747' } });
    graphic.push(text(d[0].toFixed(1), d[2], s.y, '9.5px ' + sans, '#333', 'center'));
  });

  const c = p.colorLegend;
  graphic.push(text('suitability', c.titleX, c.y, '11.5px ' + sans, '#222', 'left', 1.09));
  graphic.push({ type: 'rect', silent: true, z: 20, shape: { x: c.x0, y: c.barTop, width: c.x1 - c.x0, height: c.barBottom - c.barTop },
    style: { fill: new echarts.graphic.LinearGradient(0, 0, 1, 0, terrainColors.map((col, j) => ({ offset: j / (terrainColors.length - 1), color: col }))) } });
  c.ticks.forEach(t => {
    graphic.push({ type: 'line', silent: true, z: 21, shape: { x1: t[1], y1: c.barTop, x2: t[1], y2: c.barTop + 3 }, style: { stroke: '#fff', lineWidth: 0.6 } });
    graphic.push({ type: 'line', silent: true, z: 21, shape: { x1: t[1], y1: c.barBottom - 3, x2: t[1], y2: c.barBottom }, style: { stroke: '#fff', lineWidth: 0.6 } });
    graphic.push(text(t[0].toFixed(1), t[1], c.labelY, '9.5px ' + sans, '#333', 'center'));
  });
});

const chart = echarts.init(document.getElementById('chart'), null, { renderer: 'canvas' });
chart.setOption({
  animation: false,
  backgroundColor: '#fff',
  grid: grid,
  xAxis: xAxis,
  yAxis: yAxis,
  visualMap: visualMap,
  series: series,
  graphic: { elements: graphic }
});
</script>
</body>
</html>
